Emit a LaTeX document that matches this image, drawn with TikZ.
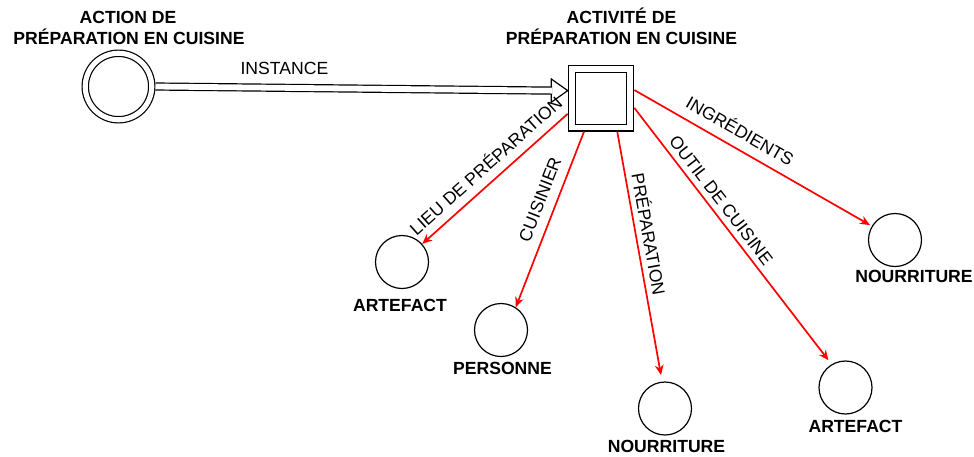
\documentclass[tikz,border=0pt]{standalone}
\usepackage{fontspec}
\setmainfont{Liberation Sans}
\usetikzlibrary{arrows.meta,calc}
\begin{document}
\begin{tikzpicture}[x=1pt,y=-1pt,
  ent/.style={circle,draw,line width=1.2pt,minimum size=53pt,inner sep=0pt},
  ttl/.style={font=\bfseries\fontsize{17.6}{21}\selectfont,inner sep=0pt,anchor=base},
  rel/.style={draw=red,line width=1.7pt,-{Stealth[length=10pt,width=8.5pt,inset=3pt]}},
  elab/.style={sloped,anchor=south,font=\fontsize{17.6}{21}\selectfont,inner xsep=0pt,text height=12.5pt,text depth=0pt}
]
\useasboundingbox (0,0) rectangle (974,456);

% main nodes
\node[circle,draw,line width=1.2pt,double,double distance=5.1pt,minimum size=66.5pt,outer sep=3.75pt,inner sep=0pt] (act) at (118.5,86.5) {};
\node[rectangle,draw,line width=1.2pt,double,double distance=5.6pt,minimum size=58.4pt,outer sep=4.1pt,inner sep=0pt] (sq) at (601,98.3) {};

% titles
\node[ttl] (actT1) at (128,23.5) {ACTION DE};
\node[ttl] (actT2) at (129,44.5) {PRÉPARATION EN CUISINE};
\node[ttl] (sqT1) at (621.5,23.5) {ACTIVITÉ DE};
\node[ttl] (sqT2) at (621.5,44.5) {PRÉPARATION EN CUISINE};

% entity circles
\node[ent] (art1) at (402,262) {};
\node[ent] (pers) at (501,330) {};
\node[ent] (nour1) at (665,408.5) {};
\node[ent] (art2) at (845.5,387.5) {};
\node[ent] (nour2) at (895,240) {};

% entity labels
\node[ttl] (art1L) at (400,311) {ARTEFACT};
\node[ttl] (persL) at (502.5,374) {PERSONNE};
\node[ttl] (nour1L) at (666.5,452) {NOURRITURE};
\node[ttl] (art2L) at (855.5,432) {ARTEFACT};
\node[ttl] (nour2L) at (914,282) {NOURRITURE};

% instance hollow arrow
\coordinate (tip) at (sq.167.6);
\coordinate (base) at ($(tip)+(-16.5,0)$);
\draw[line width=1.2pt,fill=white] (tip) -- ($(base)+(0,-11.7)$) -- ($(base)+(0,11.7)$) -- cycle;
\draw[line width=1.2pt,double,double distance=5.8pt] (act.east) -- ($(base)+(1,0)$)
  node[pos=0.325,anchor=south,font=\fontsize{17.6}{21}\selectfont,inner xsep=0pt,inner ysep=12.3pt,text height=12.5pt,text depth=0pt] (instL) {INSTANCE};

% relations
\draw[rel] (sq.-155.8) -- (art1) node[elab,pos=0.49,inner ysep=8.6pt] (l1) {LIEU DE PRÉPARATION};
\draw[rel] (sq.-117.9) -- (pers.57.4) node[elab,pos=0.42,inner ysep=9.5pt] (l2) {CUISINIER};
\draw[rel,shorten >=6.5pt] (sq.-64) -- (nour1.96) node[elab,pos=0.42,inner ysep=5.4pt] (l3) {PRÉPARATION};
\draw[rel,shorten >=5pt] (sq.-16.7) -- (art2.121) node[elab,pos=0.39,inner ysep=5.5pt] (l4) {OUTIL DE CUISINE};
\draw[rel,shorten >=2pt] (sq.14) -- (nour2.149) node[elab,pos=0.41,inner ysep=9.7pt] (l5) {INGRÉDIENTS};
\end{tikzpicture}
\end{document}
